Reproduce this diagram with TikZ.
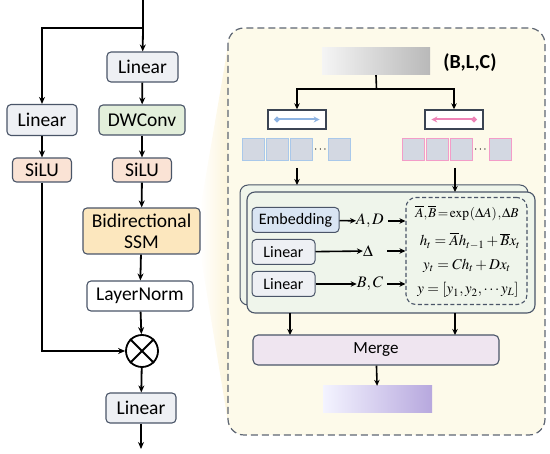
\documentclass[tikz,border=0pt]{standalone}
\usepackage{mathptmx}
\usepackage[no-math]{fontspec}
\setmainfont{Carlito}
\usetikzlibrary{arrows.meta,calc}
\definecolor{bordc}{HTML}{4A5568}
\definecolor{linfill}{HTML}{EEF0F4}
\definecolor{dwfill}{HTML}{E3EFDB}
\definecolor{silufill}{HTML}{FAE3D5}
\definecolor{ssmfill}{HTML}{FCE7BE}
\definecolor{panelfill}{HTML}{FDFAEA}
\definecolor{panelbord}{HTML}{5E6673}
\definecolor{stackfill}{HTML}{EFF5EB}
\definecolor{embfill}{HTML}{D9E5F3}
\definecolor{mergefill}{HTML}{EFE5F0}
\definecolor{sqfill}{HTML}{D3D8E2}
\definecolor{sqblue}{HTML}{A9C8EA}
\definecolor{sqpink}{HTML}{F39CC8}
\definecolor{arrblue}{HTML}{8DB3E2}
\definecolor{arrpink}{HTML}{EE82B6}
\definecolor{wedge}{HTML}{FCF4DA}
\tikzset{
  blk/.style={draw=bordc, line width=1.1pt, rounded corners=4pt, align=center, inner sep=0pt, font=\fontsize{19.5}{21}\selectfont},
  mainarr/.style={line width=1.8pt, -{Stealth[length=7pt,width=6pt]}},
  mainln/.style={line width=1.8pt},
  subarr/.style={line width=1.6pt, -{Stealth[length=6pt,width=5.5pt]}},
  sblk/.style={draw=bordc, line width=1pt, rounded corners=4pt, inner sep=0pt, font=\fontsize{16}{18}\selectfont},
  sq/.style={draw, line width=1pt, fill=sqfill, minimum size=22pt, inner sep=0pt},
  eq/.style={font=\fontsize{15}{17}\selectfont, inner sep=0pt},
  lab/.style={font=\fontsize{16}{18}\selectfont, inner sep=0pt},
}
\begin{document}
\begin{tikzpicture}[x=1pt,y=-1pt]
\useasboundingbox (0,0) rectangle (550,454);
% wedge
\shade[left color=white, right color=wedge] (200,210) -- (229,40) -- (229,428) -- (200,252) -- cycle;
% panel
\draw[panelbord, line width=1.2pt, dash pattern=on 7pt off 4pt, fill=panelfill, rounded corners=16pt] (228,28) rectangle (545,435);

% left column
\coordinate (top) at (143,0);
\coordinate (split) at (143,28);
\node[blk, fill=linfill, minimum width=71pt, minimum height=30pt] (lin1) at (142.5,67) {Linear};
\node[blk, fill=linfill, minimum width=70pt, minimum height=31pt] (linL) at (42,120) {Linear};
\node[blk, fill=dwfill, minimum width=86pt, minimum height=30pt] (dw) at (142,120) {DWConv};
\node[blk, fill=silufill, minimum width=59pt, minimum height=24pt] (siluL) at (42,170) {SiLU};
\node[blk, fill=silufill, minimum width=59pt, minimum height=24pt] (silu2) at (142,170) {SiLU};
\node[blk, fill=ssmfill, minimum width=117pt, minimum height=46pt, font=\fontsize{19.5}{21}\selectfont] (ssm) at (141.5,231) {Bidirectional\\SSM};
\node[blk, fill=white, minimum width=106pt, minimum height=30pt] (ln) at (140,296) {LayerNorm};
\node[draw, circle, line width=1.8pt, minimum size=32pt, inner sep=0pt] (ot) at (142,351) {};
\draw[line width=1.8pt] (ot.45) -- (ot.225) (ot.135) -- (ot.-45);
\node[blk, fill=linfill, minimum width=70pt, minimum height=30pt] (lin3) at (141,408) {Linear};
\coordinate (bot) at (141,449);

\draw[mainln] (top) -- (split);
\draw[mainarr] (split) -- (lin1);
\draw[mainarr] (split) -| (linL);
\draw[mainarr] (lin1) -- (dw);
\draw[mainarr] (linL) -- (siluL);
\draw[mainarr] (dw) -- (silu2);
\draw[mainarr] (silu2) -- (ssm);
\draw[mainarr] (ssm) -- (ln);
\draw[mainarr] (ln) -- (ot);
\draw[mainarr] (siluL.south) |- (ot.west);
\draw[mainarr] (ot) -- (lin3);
\draw[mainarr] (lin3) -- (bot);

% right panel top
\node[minimum width=108pt, minimum height=27pt, inner sep=0pt, left color=white!92!gray, right color=gray!55] (inbar) at (376,61.5) {};
\node[font=\fontsize{20}{22}\selectfont\bfseries] (blc) at (470,63) {(B,L,C)};
\coordinate (bsplit) at (376.5,89);
\node[draw=bordc!80!black, line width=1.4pt, fill=white, minimum width=58pt, minimum height=19pt, inner sep=0pt] (fwd) at (297,119.5) {};
\node[draw=bordc!80!black, line width=1.4pt, fill=white, minimum width=58pt, minimum height=19pt, inner sep=0pt] (bwd) at (454,119.5) {};
\draw[line width=1.6pt] (inbar.south) -- (bsplit);
\draw[subarr] (bsplit) -| (fwd.north);
\draw[subarr] (bsplit) -| (bwd.north);
\draw[arrblue, line width=2pt, {Circle[length=5.5pt]}-{Stealth[length=6pt,width=6pt]}] ($(fwd.west)+(7,0)$) -- ($(fwd.east)+(-7,0)$);
\draw[arrpink, line width=2pt, {Stealth[length=6pt,width=6pt]}-{Circle[length=5.5pt]}] ($(bwd.west)+(7,0)$) -- ($(bwd.east)+(-7,0)$);

% squares
\foreach \x/\n in {253/a,277/b,301/c,339.5/d}{\node[sq, draw=sqblue] (L\n) at (\x,150) {};}
\node[font=\fontsize{12}{12}\selectfont] (Ldots) at (320.5,150) {$\cdots$};
\foreach \x/\n in {413/a,437/b,461/c,500/d}{\node[sq, draw=sqpink] (R\n) at (\x,150) {};}
\node[font=\fontsize{12}{12}\selectfont] (Rdots) at (480.5,150) {$\cdots$};

% stacked box
\draw[bordc, line width=1pt, fill=stackfill, rounded corners=8pt] (240,185) rectangle (528,305);
\node[draw=bordc, line width=1.1pt, fill=stackfill, rounded corners=8pt, minimum width=288pt, minimum height=121pt, inner sep=0pt] (stack) at (391,252.5) {};
\coordinate (sL) at (297,168);
\coordinate (sR) at (455,168);
\draw[subarr] (sL) -- (297,185);
\draw[subarr] (sR) -- (455,192);

\node[sblk, fill=embfill, minimum width=87pt, minimum height=25pt] (emb) at (295.5,220) {Embedding};
\node[sblk, fill=linfill, minimum width=63pt, minimum height=25pt] (la) at (283.5,252) {Linear};
\node[sblk, fill=linfill, minimum width=63pt, minimum height=25pt] (lb) at (283.5,284) {Linear};

\node[lab] (ad) at (370,221) {$A,D$};
\node[lab] (dl) at (368,251) {$\Delta$};
\node[lab] (bc) at (370,284) {$B,C$};

\node[draw=bordc, line width=1.1pt, dash pattern=on 4pt off 2.5pt, rounded corners=10pt, minimum width=121pt, minimum height=107pt, inner sep=0pt] (eqbox) at (466.5,251) {};
\node[eq, font=\fontsize{13.5}{15}\selectfont] (e1) at (467,213) {$\thickmuskip=2mu\thinmuskip=1mu\overline{A},\overline{B}=\exp\left(\Delta A\right),\Delta B$};
\node[eq] (e2) at (470,241) {$h_t=\overline{A}h_{t-1}+\overline{B}x_t$};
\node[eq] (e3) at (467,266) {$y_t=Ch_t+Dx_t$};
\node[eq] (e4) at (468,290) {$y=\left[y_1,y_2,\cdots y_L\right]$};

\draw[subarr] (emb) -- (ad);
\draw[subarr] (la) -- (dl);
\draw[subarr] (lb) -- (bc);
\draw[subarr] (ad.east) ++(4,0) coordinate (ad2) -- (ad2 -| eqbox.west);
\draw[subarr] (387,251) coordinate (dl2) -- (dl2 -| eqbox.west);
\draw[subarr] (bc.east) ++(4,0) coordinate (bc2) -- (bc2 -| eqbox.west);

% merge
\node[draw=bordc, line width=1.1pt, fill=mergefill, rounded corners=5pt, minimum width=246pt, minimum height=30pt, inner sep=0pt, font=\fontsize{17}{19}\selectfont] (merge) at (376,350) {Merge};
\draw[subarr] (290,313) -- (290,335);
\draw[subarr] (455,313) -- (455,335);
\node[minimum width=109pt, minimum height=27pt, inner sep=0pt, left color=white!85!blue!30!white, right color={rgb,255:red,183;green,168;blue,222}] (outbar) at (377.5,399.5) {};
\draw[subarr] (merge) -- (outbar);
\end{tikzpicture}
\end{document}
